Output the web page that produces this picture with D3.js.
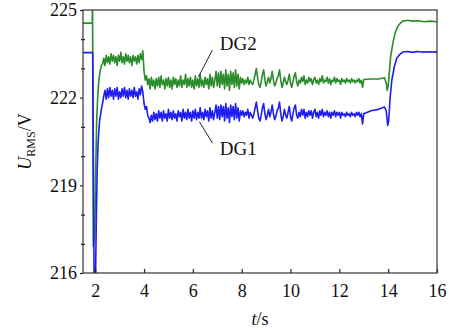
<!DOCTYPE html>
<html>
<head>
<meta charset="utf-8">
<script src="https://cdn.jsdelivr.net/npm/d3@7"></script>
<style>
  body { margin: 0; background: #fff; }
  svg, svg text { font-family: "Liberation Serif", "Times New Roman", Times, serif !important; }
</style>
</head>
<body>
<div id="chart"></div>
<script>
// tick labels
const xTicks = [2, 4, 6, 8, 10, 12, 14, 16];
const yTicks = [216, 219, 222, 225];
const yMinorTicks = [217, 218, 220, 221, 223, 224];

// DG1 RMS voltage [t (s), U (V)]
const dg1 = [
  [1.5,223.54],[1.88,223.54],[1.9,223.5],[1.96,215],[2.0,215],[2.04,217.5],[2.08,219.5],[2.12,220.5],[2.18,221.2],[2.25,221.6],
  [2.3,221.8],[2.35,222.05],[2.4,222.25],[2.45,221.95],[2.5,222.3],[2.55,222.0],[2.6,222.35],[2.65,222.05],[2.7,222.25],[2.75,221.95],
  [2.8,222.3],[2.85,222.05],[2.9,222.35],[2.95,221.95],[3.0,222.2],[3.05,222.0],[3.1,222.3],[3.15,222.05],[3.2,222.35],[3.25,222.0],
  [3.3,222.25],[3.35,221.95],[3.4,222.3],[3.45,222.05],[3.5,222.25],[3.55,222.0],[3.6,222.35],[3.65,222.05],[3.7,222.2],[3.75,221.95],
  [3.8,222.3],[3.85,222.1],[3.9,222.4],[3.95,222.2],[4.0,221.8],[4.05,221.6],[4.1,221.7],[4.15,221.4],[4.2,221.3],[4.25,221.15],
  [4.3,221.4],[4.35,221.2],[4.4,221.5],[4.45,221.25],[4.5,221.45],[4.55,221.2],[4.6,221.55],[4.65,221.3],[4.7,221.5],[4.75,221.2],
  [4.8,221.55],[4.85,221.3],[4.9,221.45],[4.95,221.2],[5.0,221.6],[5.05,221.3],[5.1,221.5],[5.15,221.25],[5.2,221.55],[5.25,221.3],
  [5.3,221.45],[5.35,221.2],[5.4,221.55],[5.45,221.35],[5.5,221.5],[5.55,221.2],[5.6,221.6],[5.65,221.3],[5.7,221.5],[5.75,221.25],
  [5.8,221.6],[5.85,221.3],[5.9,221.5],[5.95,221.2],[6.0,221.55],[6.05,221.3],[6.1,221.6],[6.15,221.25],[6.2,221.5],[6.25,221.3],
  [6.3,221.65],[6.35,221.3],[6.4,221.5],[6.45,221.25],[6.5,221.6],[6.55,221.35],[6.6,221.55],[6.65,221.2],[6.7,221.65],[6.75,221.3],
  [6.8,221.55],[6.85,221.25],[6.9,221.5],[6.95,221.75],[7.0,221.3],[7.05,221.7],[7.1,221.25],[7.15,221.75],[7.2,221.35],[7.25,221.7],
  [7.3,221.2],[7.35,221.8],[7.4,221.3],[7.45,221.65],[7.5,221.15],[7.55,221.75],[7.6,221.35],[7.65,221.7],[7.7,221.25],[7.75,221.8],
  [7.8,221.3],[7.85,221.65],[7.9,221.2],[7.95,221.55],[8.0,221.4],[8.05,221.55],[8.1,221.35],[8.15,221.5],[8.2,221.4],[8.25,221.6],
  [8.3,221.3],[8.35,221.5],[8.4,221.4],[8.45,221.3],[8.5,221.45],[8.55,221.65],[8.6,221.85],[8.65,221.55],[8.7,221.3],[8.75,221.2],
  [8.8,221.4],[8.85,221.65],[8.9,221.8],[8.95,221.45],[9.0,221.25],[9.05,221.4],[9.1,221.6],[9.15,221.35],[9.2,221.5],[9.25,221.75],
  [9.3,221.45],[9.35,221.25],[9.4,221.35],[9.45,221.55],[9.5,221.65],[9.55,221.85],[9.6,221.45],[9.65,221.2],[9.7,221.35],[9.75,221.6],
  [9.8,221.4],[9.85,221.3],[9.9,221.5],[9.95,221.7],[10.0,221.35],[10.05,221.2],[10.1,221.45],[10.15,221.65],[10.2,221.75],[10.25,221.4],
  [10.3,221.3],[10.35,221.5],[10.4,221.35],[10.45,221.6],[10.5,221.4],[10.55,221.6],[10.6,221.3],[10.65,221.5],[10.7,221.35],[10.75,221.55],
  [10.8,221.4],[10.85,221.55],[10.9,221.3],[10.95,221.5],[11.0,221.6],[11.05,221.35],[11.1,221.5],[11.15,221.3],[11.2,221.55],[11.25,221.4],
  [11.3,221.6],[11.35,221.35],[11.4,221.5],[11.45,221.4],[11.5,221.55],[11.55,221.35],[11.6,221.5],[11.65,221.3],[11.7,221.5],[11.75,221.4],
  [11.8,221.55],[11.85,221.35],[11.9,221.5],[11.95,221.4],[12.0,221.5],[12.05,221.3],[12.1,221.5],[12.15,221.4],[12.2,221.45],[12.25,221.35],
  [12.3,221.5],[12.35,221.4],[12.4,221.45],[12.45,221.35],[12.5,221.5],[12.55,221.4],[12.6,221.45],[12.65,221.35],[12.7,221.5],[12.75,221.4],
  [12.8,221.5],[12.85,221.35],[12.9,221.45],[12.95,221.1],[13.0,221.45],[13.3,221.55],[13.6,221.6],[13.85,221.68],[13.92,221.55],[13.98,221.05],
  [14.02,221.2],[14.08,222.0],[14.15,222.6],[14.25,223.05],[14.35,223.35],[14.5,223.5],[14.6,223.56],[14.8,223.58],[15.0,223.55],[15.2,223.58],
  [15.4,223.56],[15.7,223.57],[16.0,223.56]
];

// DG2 RMS voltage [t (s), U (V)]
const dg2 = [
  [1.5,224.55],[1.88,224.55],[1.89,225.8],[1.92,216.9],[1.98,217.3],[2.02,219.5],[2.06,221.2],[2.1,222.0],[2.15,222.6],[2.2,222.9],
  [2.25,223.1],[2.3,223.15],[2.35,223.35],[2.4,223.1],[2.45,223.45],[2.5,223.2],[2.55,223.4],[2.6,223.15],[2.65,223.5],[2.7,223.25],
  [2.75,223.45],[2.8,223.2],[2.85,223.4],[2.9,223.1],[2.95,223.45],[3.0,223.25],[3.05,223.55],[3.1,223.2],[3.15,223.4],[3.2,223.15],
  [3.25,223.5],[3.3,223.25],[3.35,223.45],[3.4,223.2],[3.45,223.4],[3.5,223.1],[3.55,223.45],[3.6,223.25],[3.65,223.4],[3.7,223.15],
  [3.75,223.45],[3.8,223.2],[3.85,223.5],[3.9,223.3],[3.95,223.6],[4.0,222.9],[4.05,222.6],[4.1,222.75],[4.15,222.45],[4.2,222.65],
  [4.25,222.3],[4.3,222.7],[4.35,222.4],[4.4,222.6],[4.45,222.3],[4.5,222.65],[4.55,222.4],[4.6,222.7],[4.65,222.35],[4.7,222.75],
  [4.75,222.45],[4.8,222.6],[4.85,222.3],[4.9,222.65],[4.95,222.4],[5.0,222.7],[5.05,222.35],[5.1,222.6],[5.15,222.3],[5.2,222.7],
  [5.25,222.45],[5.3,222.65],[5.35,222.35],[5.4,222.6],[5.45,222.4],[5.5,222.75],[5.55,222.35],[5.6,222.6],[5.65,222.45],[5.7,222.8],
  [5.75,222.35],[5.8,222.65],[5.85,222.4],[5.9,222.7],[5.95,222.35],[6.0,222.6],[6.05,222.3],[6.1,222.75],[6.15,222.4],[6.2,222.65],
  [6.25,222.35],[6.3,222.8],[6.35,222.4],[6.4,222.6],[6.45,222.35],[6.5,222.7],[6.55,222.45],[6.6,222.65],[6.65,222.3],[6.7,222.8],
  [6.75,222.4],[6.8,222.7],[6.85,222.35],[6.9,222.6],[6.95,222.9],[7.0,222.4],[7.05,222.85],[7.1,222.35],[7.15,222.9],[7.2,222.45],
  [7.25,222.8],[7.3,222.3],[7.35,222.95],[7.4,222.4],[7.45,222.8],[7.5,222.25],[7.55,222.9],[7.6,222.45],[7.65,222.85],[7.7,222.35],
  [7.75,222.95],[7.8,222.4],[7.85,222.8],[7.9,222.3],[7.95,222.7],[8.0,222.5],[8.05,222.65],[8.1,222.45],[8.15,222.6],[8.2,222.5],
  [8.25,222.7],[8.3,222.45],[8.35,222.6],[8.4,222.5],[8.45,222.45],[8.5,222.6],[8.55,222.8],[8.6,223.0],[8.65,222.7],[8.7,222.45],
  [8.75,222.35],[8.8,222.55],[8.85,222.8],[8.9,222.95],[8.95,222.6],[9.0,222.4],[9.05,222.55],[9.1,222.7],[9.15,222.5],[9.2,222.65],
  [9.25,222.9],[9.3,222.6],[9.35,222.4],[9.4,222.5],[9.45,222.65],[9.5,222.75],[9.55,222.95],[9.6,222.6],[9.65,222.35],[9.7,222.5],
  [9.75,222.7],[9.8,222.55],[9.85,222.45],[9.9,222.6],[9.95,222.8],[10.0,222.5],[10.05,222.35],[10.1,222.55],[10.15,222.75],[10.2,222.85],
  [10.25,222.55],[10.3,222.4],[10.35,222.6],[10.4,222.5],[10.45,222.7],[10.5,222.55],[10.55,222.75],[10.6,222.45],[10.65,222.6],[10.7,222.5],
  [10.75,222.7],[10.8,222.55],[10.85,222.65],[10.9,222.45],[10.95,222.6],[11.0,222.7],[11.05,222.5],[11.1,222.6],[11.15,222.45],[11.2,222.65],
  [11.25,222.55],[11.3,222.75],[11.35,222.5],[11.4,222.6],[11.45,222.55],[11.5,222.7],[11.55,222.5],[11.6,222.65],[11.65,222.45],[11.7,222.6],
  [11.75,222.55],[11.8,222.7],[11.85,222.5],[11.9,222.65],[11.95,222.55],[12.0,222.6],[12.05,222.45],[12.1,222.65],[12.15,222.55],[12.2,222.6],
  [12.25,222.5],[12.3,222.65],[12.35,222.55],[12.4,222.6],[12.45,222.5],[12.5,222.65],[12.55,222.55],[12.6,222.6],[12.65,222.5],[12.7,222.6],
  [12.75,222.55],[12.8,222.65],[12.85,222.5],[12.9,222.6],[12.95,222.35],[13.0,222.62],[13.3,222.64],[13.6,222.64],[13.85,222.68],[13.92,222.5],
  [13.96,222.25],[14.0,222.4],[14.05,222.9],[14.1,223.4],[14.2,223.9],[14.3,224.25],[14.4,224.45],[14.5,224.55],[14.6,224.62],[14.8,224.65],
  [15.0,224.62],[15.2,224.63],[15.5,224.6],[15.7,224.62],[16.0,224.6]
];

// series labels with leader lines, in data units
const labels = [
  { name: "DG2", text: [7.1, 223.63], lead: [[6.8, 223.63], [6.23, 222.71]] },
  { name: "DG1", text: [7.1, 220.04], lead: [[6.27, 221.17], [6.8, 220.45]] }
];

const width = 451, height = 332;
const margin = { top: 10, right: 14, bottom: 59, left: 83 };

const svg = d3.select("#chart").append("svg")
  .attr("width", width)
  .attr("height", height);

const x = d3.scaleLinear()
  .domain([1.5, 16])
  .range([margin.left, width - margin.right]);

const y = d3.scaleLinear()
  .domain([216, 225])
  .range([height - margin.bottom, margin.top]);

svg.append("clipPath").attr("id", "plot")
  .append("rect")
  .attr("x", margin.left).attr("y", margin.top)
  .attr("width", width - margin.left - margin.right)
  .attr("height", height - margin.top - margin.bottom);

const line = d3.line()
  .x(d => x(d[0]))
  .y(d => y(d[1]));

svg.append("path")
  .datum(dg2)
  .attr("clip-path", "url(#plot)")
  .attr("fill", "none")
  .attr("stroke", "#2a8c2a")
  .attr("stroke-width", 1.6)
  .attr("stroke-linejoin", "round")
  .attr("d", line);

svg.append("path")
  .datum(dg1)
  .attr("clip-path", "url(#plot)")
  .attr("fill", "none")
  .attr("stroke", "#1e1ef0")
  .attr("stroke-width", 1.6)
  .attr("stroke-linejoin", "round")
  .attr("d", line);

// axes
const xAxis = g => g
  .attr("transform", `translate(0,${height - margin.bottom})`)
  .call(d3.axisBottom(x).tickValues(xTicks).tickSize(-4).tickPadding(11))
  .call(g => g.select(".domain").remove());

const yAxis = g => g
  .attr("transform", `translate(${margin.left},0)`)
  .call(d3.axisLeft(y).tickValues(yTicks).tickSize(3).tickPadding(3))
  .call(g => g.select(".domain").remove());

const yMinor = (g, size) => g
  .attr("transform", `translate(${margin.left},0)`)
  .call(d3.axisLeft(y).tickValues(yMinorTicks).tickSize(size).tickFormat(""))
  .call(g => g.select(".domain").remove());

svg.append("g").call(xAxis);
svg.append("g").call(yAxis);
svg.append("g").call(yMinor, 2);
svg.append("g").call(yMinor, -2);

svg.selectAll(".tick line").attr("stroke", "#222").attr("stroke-width", 1.2);
svg.selectAll(".tick text")
  .attr("fill", "#111")
  .attr("font-size", 18);

// frame
svg.append("rect")
  .attr("x", margin.left).attr("y", margin.top)
  .attr("width", width - margin.left - margin.right)
  .attr("height", height - margin.top - margin.bottom)
  .attr("fill", "none")
  .attr("stroke", "#333")
  .attr("stroke-width", 1.2);

// series labels
labels.forEach(l => {
  svg.append("line")
    .attr("x1", x(l.lead[0][0])).attr("y1", y(l.lead[0][1]))
    .attr("x2", x(l.lead[1][0])).attr("y2", y(l.lead[1][1]))
    .attr("stroke", "#222")
    .attr("stroke-width", 1);
  svg.append("text")
    .attr("x", x(l.text[0]))
    .attr("y", y(l.text[1]))
    .attr("font-size", 19)
    .attr("fill", "#111")
    .text(l.name);
});

// axis titles
const xTitle = svg.append("text")
  .attr("x", (margin.left + width - margin.right) / 2)
  .attr("y", height - 7)
  .attr("text-anchor", "middle")
  .attr("font-size", 18)
  .attr("fill", "#111");
xTitle.append("tspan").attr("font-style", "italic").text("t");
xTitle.append("tspan").text("/s");

const yTitle = svg.append("text")
  .attr("transform", `translate(31,${(margin.top + height - margin.bottom) / 2}) rotate(-90)`)
  .attr("text-anchor", "middle")
  .attr("font-size", 18)
  .attr("fill", "#111");
yTitle.append("tspan").attr("font-style", "italic").text("U");
yTitle.append("tspan").attr("font-size", 12).attr("dy", 4).text("RMS");
yTitle.append("tspan").attr("dy", -4).text("/V");
</script>
</body>
</html>
